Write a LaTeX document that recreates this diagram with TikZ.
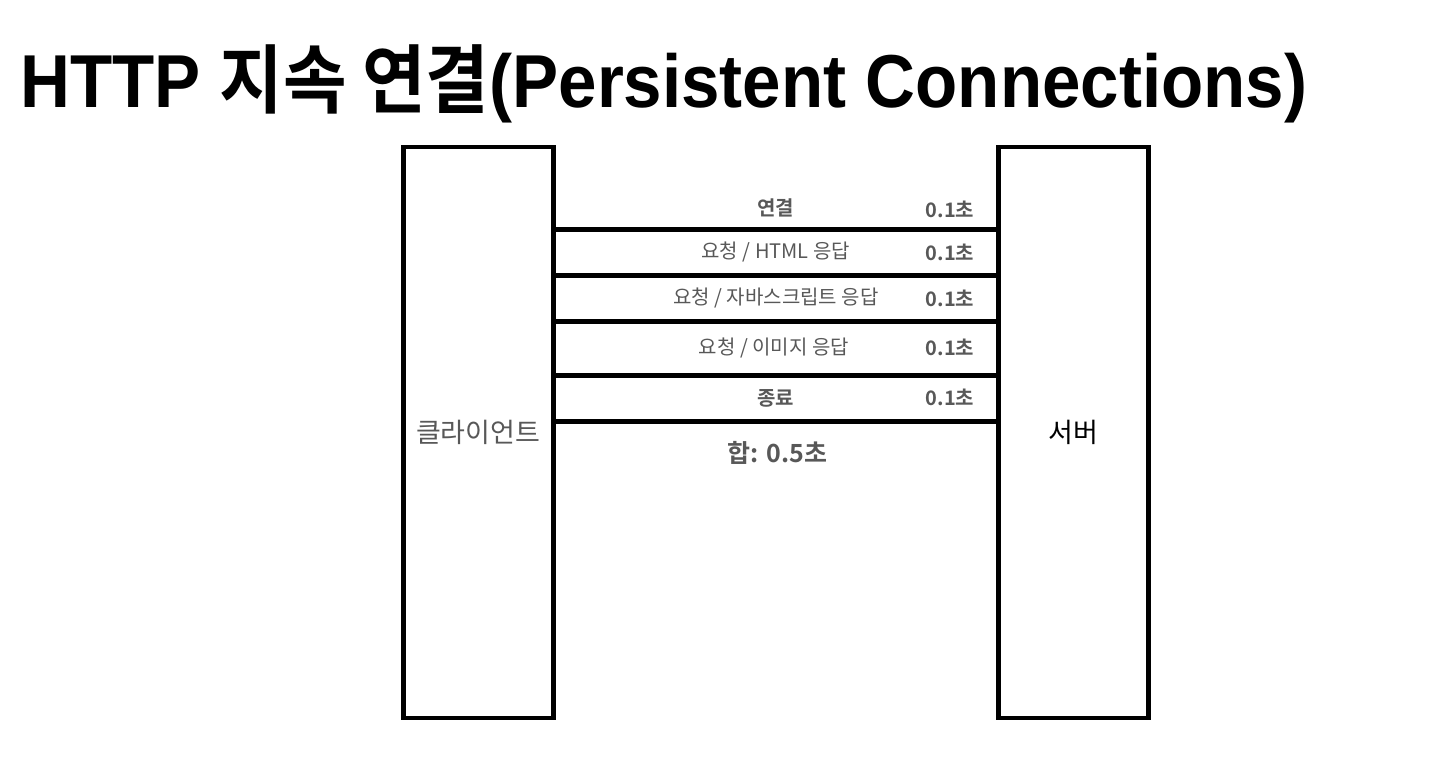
\documentclass[tikz,border=0pt]{standalone}
\usepackage{fontspec}
\setmainfont{Noto Sans CJK KR}[BoldFont={Noto Sans CJK KR Bold}]
\newfontfamily\latinfont{Liberation Sans}
\usetikzlibrary{positioning}
\definecolor{labelgray}{HTML}{585858}

\begin{document}
\begin{tikzpicture}[x=1pt,y=-1pt,
    box/.style={draw, line width=4.7pt, minimum width=150pt, minimum height=571pt, inner sep=0pt},
    link/.style={line width=4.7pt},
    msg/.style={text=labelgray, font=\fontsize{20}{20}\selectfont, inner sep=0pt},
    cost/.style={text=labelgray, font=\fontsize{20}{20}\selectfont\bfseries, inner sep=0pt}]
                \useasboundingbox (0,0) rectangle (1438,772);
                \node[anchor=base west, inner sep=0pt, font=\fontsize{75}{75}\selectfont\bfseries] (title) at (20,107)
                    {\scalebox{0.921}[1]{{\latinfont HTTP }지속 연결{\latinfont (Persistent Connections)}}};
                \node[box, text=labelgray, font=\fontsize{27}{27}\selectfont] (client) at (478.2,432.5) {클라이언트};
                \node[box, font=\fontsize{27}{27}\selectfont] (server) at (1073.3,432.5) {서버};
                \foreach \y in {229.7,275.7,321.3,375.7,421.7}
                    \draw[link] (client.east |- 0,\y) -- (server.west |- 0,\y);
                \node[msg, font=\fontsize{20}{20}\selectfont\bfseries] (connect) at (775.8,208) {연결};
                \node[msg] (html) at (775.7,252) {요청 / HTML 응답};
                \node[msg] (script) at (776,298) {요청 / 자바스크립트 응답};
                \node[msg] (image) at (774,348) {요청 / 이미지 응답};
                \node[msg, font=\fontsize{20}{20}\selectfont\bfseries] (close) at (775.8,398) {종료};
                \foreach \n/\y in {connect/209,html/252,script/298,image/347,close/397}
                    \node[cost] (t-\n) at (950,\y) {0.1초};
                \node[cost, font=\fontsize{25}{25}\selectfont\bfseries] (total) at (777.5,453) {합: 0.5초};
            \end{tikzpicture}
\end{document}
